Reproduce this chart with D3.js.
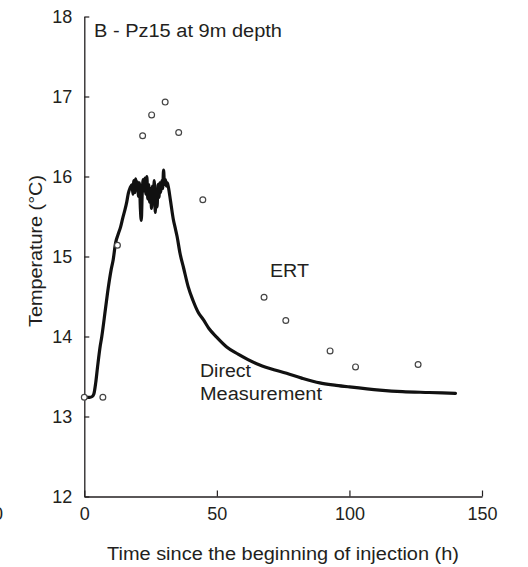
<!DOCTYPE html>
<html>
<head>
<meta charset="utf-8">
<script src="https://cdn.jsdelivr.net/npm/d3@7"></script>
<style>
  html, body { margin: 0; padding: 0; background: #fff; }
  svg { display: block; }
  text { font-family: "Liberation Sans", Arial, sans-serif; fill: #231f20; }
</style>
</head>
<body>
<svg id="chart" width="528" height="567"></svg>
<script>
// ---- data ----
const xTicks = [0, 50, 100, 150];
const yTicks = [12, 13, 14, 15, 16, 17, 18];

// Direct measurement (time h, temperature °C)
const directTime = [0, 1, 2, 3, 3.6, 4.3, 5, 6, 6.6, 8, 9, 10.1, 10.9, 11.8, 12.8, 13.7, 14.5, 15.3, 16, 16.6, 17.3,
  18.0, 18.35, 18.7, 19.05, 19.4, 19.75, 20.1, 20.45, 20.8, 21.15, 21.5, 21.85, 22.2, 22.55, 22.9, 23.25, 23.6, 23.95,
  24.3, 24.65, 25.0, 25.35, 25.7, 26.05, 26.4, 26.75, 27.1, 27.45, 27.8, 28.15, 28.5, 28.85, 29.2, 29.55, 29.9, 30.25,
  30.6, 30.95, 31.3, 31.7, 32.5, 33.6, 34.2, 35, 36.1, 37.5, 39.2, 41, 43, 44.9, 47, 50, 53.7, 58, 65, 70, 76.3, 82,
  88.8, 95, 100, 111.4, 120, 130, 140];
const directTemp = [13.24, 13.24, 13.24, 13.25, 13.28, 13.42, 13.62, 13.88, 14.0, 14.35, 14.6, 14.83, 14.96, 15.17, 15.28, 15.37, 15.48, 15.58, 15.68, 15.79, 15.86,
  15.90, 15.78, 15.95, 15.80, 15.97, 15.85, 15.93, 15.75, 15.92, 15.60, 15.45, 15.80, 15.96, 15.82, 15.98, 15.78, 16.00, 15.72,
  15.90, 15.68, 15.85, 15.60, 15.88, 15.75, 15.95, 15.55, 15.82, 15.62, 15.90, 15.74, 15.92, 15.80, 15.95, 15.85, 16.08, 15.90,
  15.96, 15.88, 15.92, 15.87, 15.70, 15.46, 15.37, 15.25, 15.04, 14.85, 14.62, 14.45, 14.30, 14.21, 14.10, 13.99, 13.87, 13.78, 13.66, 13.60, 13.54, 13.48,
  13.42, 13.39, 13.37, 13.33, 13.31, 13.30, 13.29];

// ERT estimates
const ertTime = [0, 7.0, 12.5, 22.0, 25.4, 30.5, 35.6, 44.7, 67.8, 76.0, 92.7, 102.3, 125.9];
const ertTemp = [13.24, 13.24, 15.14, 16.51, 16.77, 16.93, 16.55, 15.71, 14.49, 14.20, 13.82, 13.62, 13.65];

// ---- chart ----
const svg = d3.select("#chart");
const x = d3.scaleLinear().domain([0, 150]).range([84.3, 482]);
const y = d3.scaleLinear().domain([12, 18]).range([496.5, 16.5]);

const ink = "#231f20";

// axes
const gx = svg.append("g").attr("transform", `translate(0,${y(12)})`)
  .call(d3.axisBottom(x).tickValues(xTicks).tickFormat(d3.format("d"))
    .tickSizeInner(-6).tickSizeOuter(0).tickPadding(11));
const gy = svg.append("g").attr("transform", `translate(${x(0)},0)`)
  .call(d3.axisLeft(y).tickValues(yTicks).tickFormat(d3.format("d"))
    .tickSizeInner(-5).tickSizeOuter(0).tickPadding(12));
[gx, gy].forEach(g => {
  g.select(".domain").attr("stroke", ink).attr("stroke-width", 1.3);
  g.selectAll(".tick line").attr("stroke", ink).attr("stroke-width", 1.2);
  g.selectAll(".tick text").attr("font-size", 18).attr("fill", ink)
    .style("font-family", '"Liberation Sans", Arial, sans-serif');
});

// direct measurement line
const lineData = directTime.map((t, i) => [t, directTemp[i]]);
svg.append("path")
  .datum(lineData)
  .attr("fill", "none")
  .attr("stroke", "#111")
  .attr("stroke-width", 3.2)
  .attr("stroke-linejoin", "round")
  .attr("stroke-linecap", "round")
  .attr("d", d3.line().curve(d3.curveMonotoneX).x(d => x(d[0])).y(d => y(d[1])));

// ERT points
svg.append("g").selectAll("circle")
  .data(ertTime.map((t, i) => [t, ertTemp[i]]))
  .join("circle")
  .attr("cx", d => x(d[0]))
  .attr("cy", d => y(d[1]))
  .attr("r", 2.9)
  .attr("fill", "#fff")
  .attr("stroke", "#444")
  .attr("stroke-width", 1.2);

// texts
function label(txt, px, py, len, opts = {}) {
  const t = svg.append("text")
    .attr("x", px).attr("y", py)
    .attr("font-size", opts.size || 18)
    .text(txt);
  if (len) t.attr("textLength", len).attr("lengthAdjust", "spacingAndGlyphs");
  if (opts.anchor) t.attr("text-anchor", opts.anchor);
  if (opts.rotate) t.attr("transform", `rotate(-90,${px},${py})`);
  return t;
}
label("B - Pz15 at 9m depth", 94, 37, 188);
label("ERT", 270, 277, 39);
label("Direct", 200, 377, 51);
label("Measurement", 200, 400, 122);
label("Time since the beginning of injection (h)", 283, 560, 352, { anchor: "middle" });
label("Temperature (°C)", 42, 251, 152, { anchor: "middle", rotate: true });
// clipped tick label from neighbouring panel (cut off at the left edge, as in the source)
label("0", -7, 520, null);
</script>
</body>
</html>
